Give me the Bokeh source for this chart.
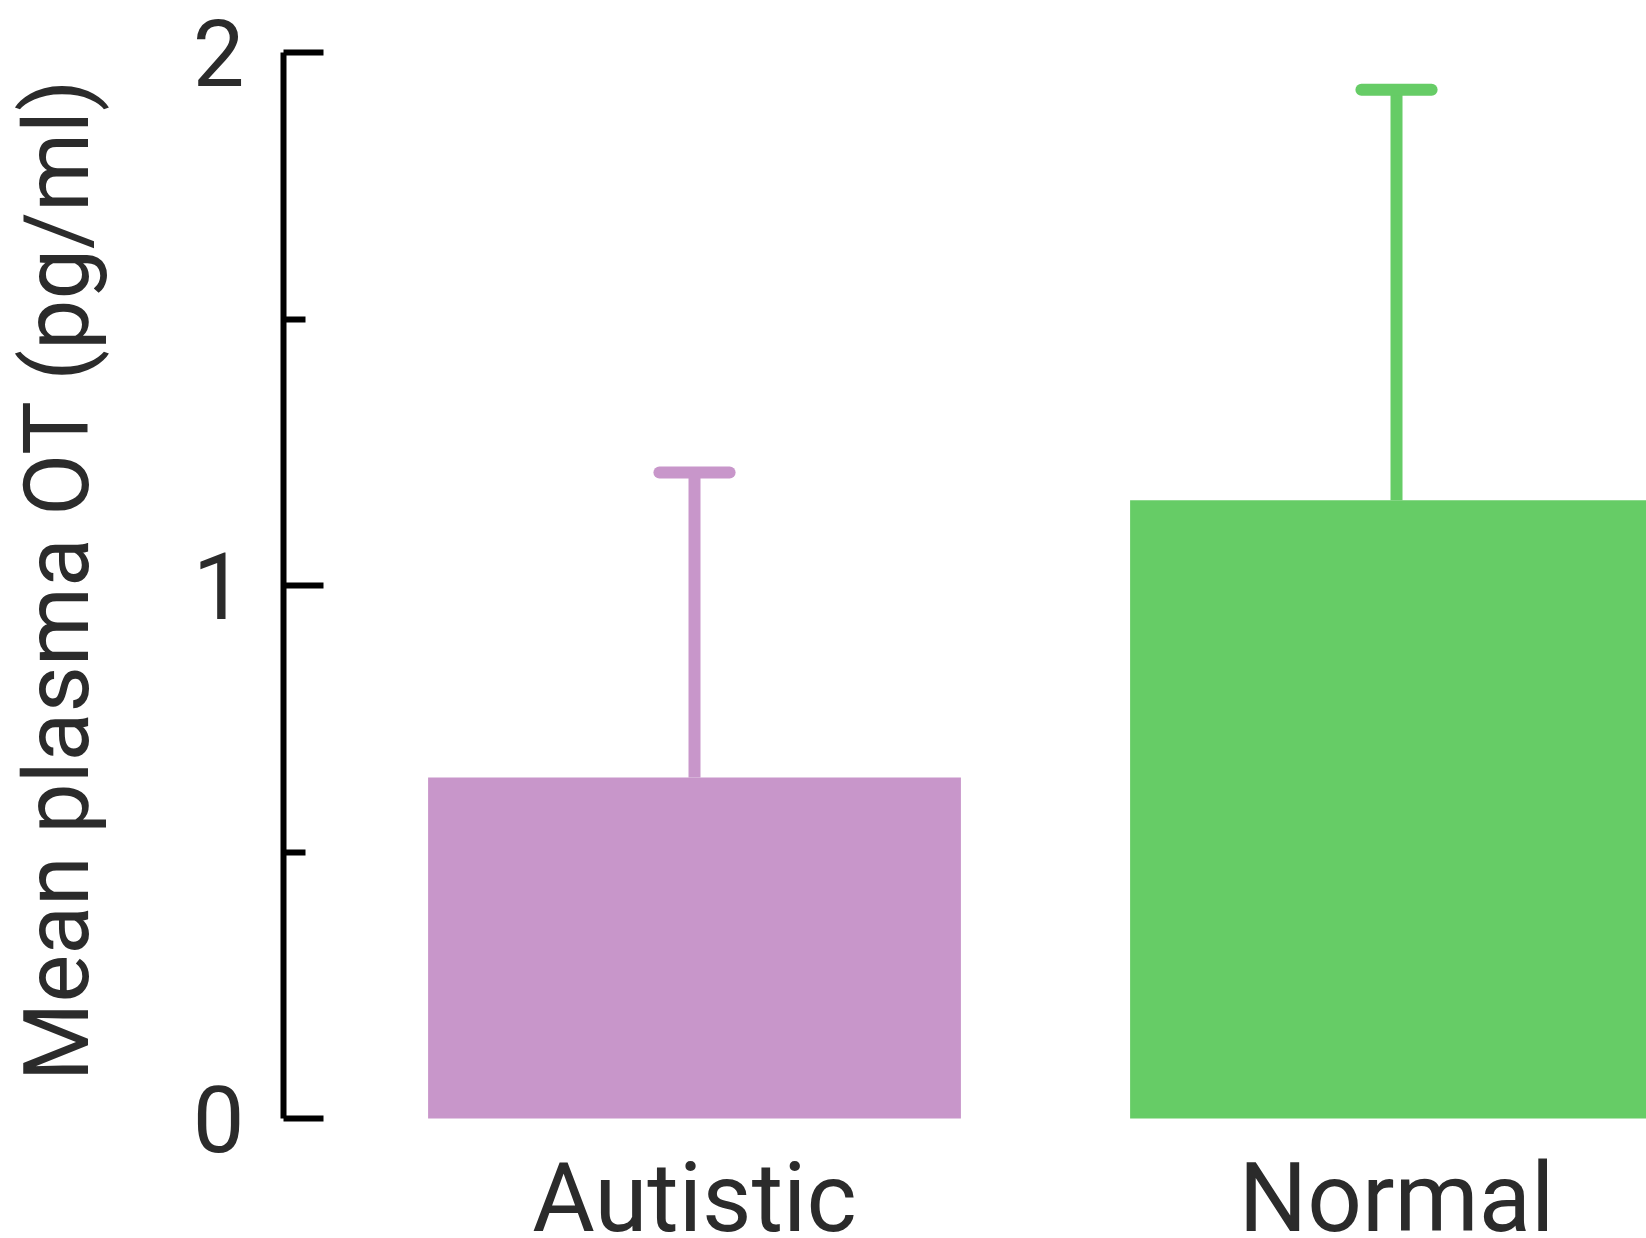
import math
from bokeh.plotting import figure
from bokeh.models import Range1d, FixedTicker, ColumnDataSource
from bokeh.core.properties import value
from bokeh.embed import file_html
from bokeh.resources import INLINE

# ---- data ----
categories = ["Autistic", "Normal"]
means = [0.64, 1.16]
errors = [0.572, 0.77]
bar_colors = ["#C896CA", "#66CC66"]
y_ticks = [0, 1, 2]
y_minor_ticks = [0.5, 1.5]
y_title = "Mean plasma OT (pg/ml)"

FONT = "Roboto"
TEXT_COLOR = "#2b2b2b"

xs = list(range(len(categories)))
uppers = [m + e for m, e in zip(means, errors)]
cap_half = 0.05
axis_x = -0.5855          # where the value axis stands (data units)
title_x = -0.907          # where the rotated axis title stands (data units)

src = ColumnDataSource(dict(
    x=xs, top=means, upper=uppers, color=bar_colors,
    cx0=[x - cap_half for x in xs], cx1=[x + cap_half for x in xs],
))

p = figure(width=1646, height=1238, output_backend="svg", toolbar_location=None,
           x_range=Range1d(-0.9886, 1.3561), y_range=Range1d(-0.2251, 2.0976),
           min_border_left=0, min_border_right=0, min_border_top=0, min_border_bottom=0)
p.outline_line_color = None
p.background_fill_color = "white"
p.border_fill_color = "white"
p.xgrid.visible = False
p.ygrid.visible = False

# bars
p.vbar(x="x", top="top", bottom=0, width=0.759, color="color", line_color=None, source=src)
# error bars
p.segment(x0="x", y0="top", x1="x", y1="upper", line_color="color", line_width=12, source=src)
p.segment(x0="cx0", y0="upper", x1="cx1", y1="upper", line_color="color", line_width=12,
          line_cap="round", source=src)

# x axis: category names only, pinned at y=0
xax = p.xaxis[0]
xax.fixed_location = 0
xax.ticker = FixedTicker(ticks=xs)
xax.major_label_overrides = {x: c for x, c in zip(xs, categories)}
xax.axis_line_color = None
xax.major_tick_line_color = None
xax.minor_tick_line_color = None
xax.major_tick_in = 0
xax.major_tick_out = 0
xax.major_label_text_font = FONT
xax.major_label_text_font_size = "96px"
xax.major_label_text_color = TEXT_COLOR
xax.major_label_standoff = 23

# y axis pinned at axis_x, spanning 0..2
yax = p.yaxis[0]
yax.fixed_location = axis_x
yax.bounds = (min(y_ticks), max(y_ticks))
yax.ticker = FixedTicker(ticks=y_ticks, minor_ticks=y_minor_ticks)
yax.axis_line_width = 6
yax.axis_line_color = "black"
yax.major_tick_line_width = 6
yax.major_tick_line_color = "black"
yax.minor_tick_line_width = 6
yax.minor_tick_line_color = "black"
yax.major_tick_in = 40
yax.major_tick_out = 0
yax.minor_tick_in = 22
yax.minor_tick_out = 0
yax.major_label_text_font = FONT
yax.major_label_text_font_size = "92px"
yax.major_label_text_color = TEXT_COLOR
yax.major_label_standoff = 39

# rotated axis title, centred on the axis span
p.text(x=[title_x], y=[(min(y_ticks) + max(y_ticks)) / 2], text=[y_title], angle=math.pi / 2,
       text_font=value(FONT), text_font_size="90px", text_color=TEXT_COLOR,
       text_align="center", text_baseline="middle", x_offset=0, y_offset=-6)

open("out.html", "w").write(file_html(p, INLINE))
